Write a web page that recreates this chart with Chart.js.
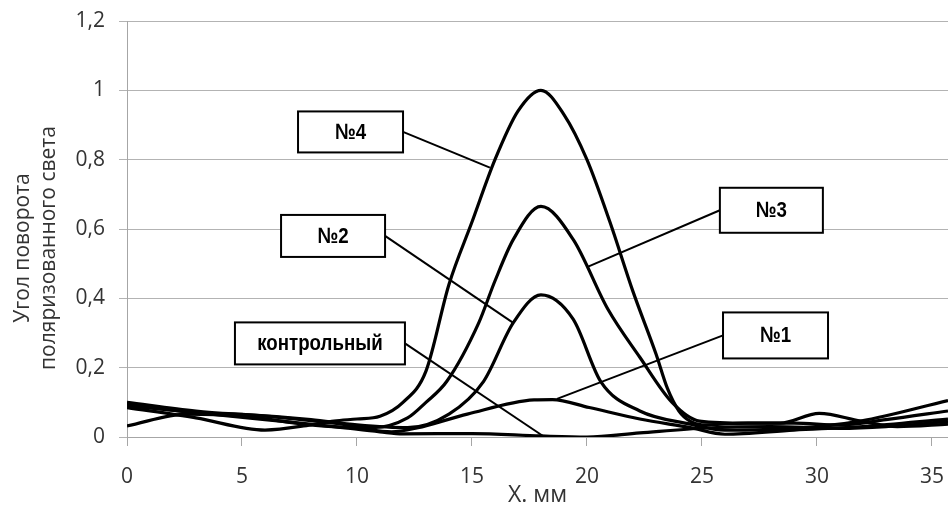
<!DOCTYPE html>
<html>
<head>
<meta charset="utf-8">
<script src="https://cdn.jsdelivr.net/npm/chart.js@4"></script>
<style>
html,body{margin:0;padding:0;background:#fff;overflow:hidden}
#wrap{width:948px;height:506px;position:relative}
</style>
</head>
<body>
<div id="wrap"><canvas id="chart"></canvas></div>
<script>
// values, x in mm
let x4=[0,3,6,8,9,10,11,12,13,14,15,16,17,18,19,20,21,22,23,23.5,24,24.5,25,27,29,31,33,35.7]
let y4=[0.085,0.055,0.02,0.035,0.046,0.052,0.06,0.1,0.19,0.44,0.62,0.8,0.94,1.0,0.93,0.8,0.62,0.42,0.24,0.14,0.075,0.045,0.035,0.04,0.04,0.035,0.05,0.075]

let x3=[0,3,6,9,10.7,12.2,13,13.9,15.3,16,16.8,18,19.4,20.9,22.3,23.7,24.9,27,28.4,30.1,31.9,33.5,35.7]
let y3=[0.1,0.075,0.06,0.04,0.027,0.055,0.1,0.16,0.33,0.45,0.57,0.665,0.57,0.37,0.23,0.1,0.046,0.04,0.04,0.068,0.046,0.03,0.037]

let x2=[0,3,5,8,10,12.2,14,15.5,16.8,18,19.4,20.6,22.3,24.5,26,29,31.9,35.7]
let y2=[0.095,0.07,0.065,0.05,0.035,0.027,0.066,0.16,0.33,0.41,0.34,0.16,0.075,0.037,0.02,0.025,0.046,0.105]

let x1=[0,2.6,5,8,10,11.5,12.6,14.8,17.7,18.5,20.1,22.3,24.5,26,29,32,35.7]
let y1=[0.032,0.066,0.06,0.035,0.025,0.015,0.026,0.066,0.107,0.108,0.085,0.052,0.027,0.008,0.02,0.03,0.052]

let xk=[0,3,6,9,11,12,15,18,20,22.3,25.2,28,31,33,35.7]
let yk=[0.09,0.07,0.05,0.03,0.015,0.009,0.01,0.003,0,0.012,0.026,0.03,0.025,0.03,0.045]

let yTicks=["0","0,2","0,4","0,6","0,8","1","1,2"]

// label boxes: centre and leader target in data units
let boxText=["№4","№3","№2","контрольный","№1"]
let boxX=[9.72,28.02,8.96,8.39,28.2]
let boxY=[0.88,0.654,0.58,0.27,0.293]
let boxW=[105,103,104,170,105]
let boxH=[41,45,42,42,46]
let tipX=[15.78,20.0,16.78,18.09,18.7]
let tipY=[0.777,0.49,0.33,0.003,0.11]

function pts(xs,ys){
return xs.map((x,i)=>({x:x,y:ys[i]}))
}

function line(label,xs,ys){
return {label:label,data:pts(xs,ys),showLine:true,borderColor:"#000",borderWidth:3.2,
pointRadius:0,fill:false,cubicInterpolationMode:"monotone"}
}

let tickFont={family:"Open Sans",size:21}

let boxes={
id:"boxes",
afterDatasetsDraw(chart){
let c=chart.ctx
let sx=chart.scales.x
let sy=chart.scales.y
c.save()
for(let i=0;i<boxText.length;i++){
let cx=sx.getPixelForValue(boxX[i])
let cy=sy.getPixelForValue(boxY[i])
let tx=sx.getPixelForValue(tipX[i])
let ty=sy.getPixelForValue(tipY[i])
let w=boxW[i],h=boxH[i]
let ex=tx>cx?cx+w/2:cx-w/2
c.strokeStyle="#000"
c.lineWidth=2
c.beginPath()
c.moveTo(ex,cy)
c.lineTo(tx,ty)
c.stroke()
c.fillStyle="#fff"
c.fillRect(cx-w/2,cy-h/2,w,h)
c.strokeRect(cx-w/2,cy-h/2,w,h)
c.fillStyle="#000"
c.font="bold 22px 'Liberation Sans'"
c.textAlign="center"
c.textBaseline="middle"
c.save()
c.translate(cx,cy+1)
c.scale(0.85,1)
c.fillText(boxText[i],0,0)
c.restore()
}
// y axis title, two lines
c.fillStyle="#333"
c.font="21px 'Open Sans'"
c.textAlign="center"
c.textBaseline="middle"
c.translate(0,248)
c.rotate(-Math.PI/2)
c.fillText("Угол поворота",0,23)
c.fillText("поляризованного света",0,49)
c.restore()
}
}

let ctx=document.getElementById("chart").getContext("2d")

let chart=new Chart(ctx,{
type:"scatter",
data:{
datasets:[
line("№4",x4,y4),
line("№3",x3,y3),
line("№2",x2,y2),
line("№1",x1,y1),
line("контрольный",xk,yk)
]
},
options:{
responsive:true,
maintainAspectRatio:false,
animation:false,
layout:{padding:{top:21,right:0,left:0,bottom:0}},
plugins:{legend:{display:false},tooltip:{enabled:false}},
scales:{
x:{
type:"linear",min:0,max:35.7,
afterFit(s){s.height=69;s.paddingLeft=0;s.paddingRight=0},
afterBuildTicks(s){s.ticks=s.ticks.filter(t=>t.value%5==0)},
ticks:{stepSize:5,includeBounds:false,color:"#333",font:tickFont,padding:18,maxRotation:0},
grid:{drawOnChartArea:false,color:"#a6a6a6",tickLength:9},
border:{color:"#a6a6a6"},
title:{display:true,text:"X. мм",color:"#333",font:{family:"Open Sans",size:23},padding:{top:-5,bottom:-3}}
},
y:{
min:0,max:1.2,
afterFit(s){s.width=127;s.paddingTop=0;s.paddingBottom=0},
ticks:{stepSize:0.2,color:"#333",font:tickFont,padding:14,
callback:(v,i)=>yTicks[i]},
grid:{color:"#b3b3b3",tickLength:8},
border:{color:"#a6a6a6"}
}
}
},
plugins:[boxes]
})
</script>
</body>
</html>
